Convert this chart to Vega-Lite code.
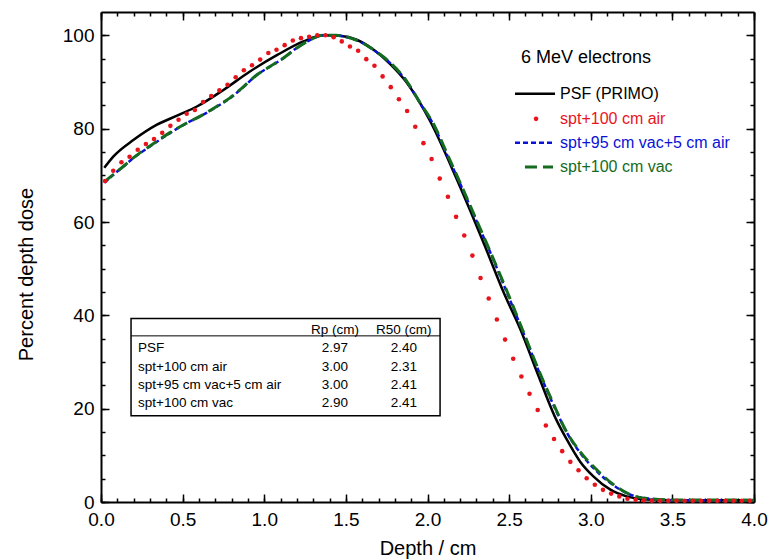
{
  "$schema": "https://vega.github.io/schema/vega-lite/v6.json",
  "width": 653,
  "height": 490,
  "autosize": {"type": "none"},
  "padding": {"left": 101, "top": 12, "right": 17, "bottom": 57},
  "config": {
    "font": "Liberation Sans",
    "view": {"stroke": null},
    "axis": {"grid": false, "domainColor": "black", "tickColor": "black", "labelColor": "black", "titleColor": "black", "titleFontWeight": "normal", "labelFont": "Liberation Sans", "titleFont": "Liberation Sans"}
  },
  "datasets": {
    "psf": [
      {"depth": 0.02, "dose": 71.6}, {"depth": 0.075, "dose": 74.0}, {"depth": 0.2, "dose": 77.6}, {"depth": 0.34, "dose": 80.8},
      {"depth": 0.48, "dose": 83.0}, {"depth": 0.59, "dose": 84.8}, {"depth": 0.75, "dose": 88.3}, {"depth": 0.91, "dose": 92.2},
      {"depth": 1.08, "dose": 95.8}, {"depth": 1.24, "dose": 98.7}, {"depth": 1.36, "dose": 100.0}, {"depth": 1.46, "dose": 99.9},
      {"depth": 1.57, "dose": 99.0}, {"depth": 1.67, "dose": 96.9}, {"depth": 1.77, "dose": 93.9}, {"depth": 1.87, "dose": 90.0},
      {"depth": 2.015, "dose": 81.7}, {"depth": 2.18, "dose": 69.1}, {"depth": 2.28, "dose": 60.9}, {"depth": 2.36, "dose": 54.1},
      {"depth": 2.47, "dose": 44.6}, {"depth": 2.57, "dose": 36.9}, {"depth": 2.68, "dose": 27.0}, {"depth": 2.78, "dose": 18.3},
      {"depth": 2.853, "dose": 13.4}, {"depth": 2.934, "dose": 8.7}, {"depth": 3.016, "dose": 5.5}, {"depth": 3.118, "dose": 2.7},
      {"depth": 3.22, "dose": 1.2}, {"depth": 3.343, "dose": 0.55}, {"depth": 3.5, "dose": 0.4}, {"depth": 4.0, "dose": 0.4}
    ],
    "vac95": [
      {"depth": 0.02, "dose": 68.4}, {"depth": 0.075, "dose": 70.1}, {"depth": 0.137, "dose": 71.9}, {"depth": 0.198, "dose": 73.7},
      {"depth": 0.3, "dose": 76.2}, {"depth": 0.42, "dose": 79.0}, {"depth": 0.525, "dose": 81.2}, {"depth": 0.627, "dose": 83.0},
      {"depth": 0.709, "dose": 84.7}, {"depth": 0.79, "dose": 86.5}, {"depth": 0.872, "dose": 88.9}, {"depth": 0.954, "dose": 91.5},
      {"depth": 1.035, "dose": 93.3}, {"depth": 1.117, "dose": 95.1}, {"depth": 1.199, "dose": 97.3}, {"depth": 1.28, "dose": 99.0},
      {"depth": 1.362, "dose": 100.0}, {"depth": 1.43, "dose": 100.0}, {"depth": 1.525, "dose": 99.4}, {"depth": 1.607, "dose": 98.3},
      {"depth": 1.668, "dose": 96.9}, {"depth": 1.76, "dose": 94.4}, {"depth": 1.873, "dose": 90.1}, {"depth": 1.954, "dose": 85.5},
      {"depth": 2.036, "dose": 80.9}, {"depth": 2.118, "dose": 74.5}, {"depth": 2.2, "dose": 68.2}, {"depth": 2.29, "dose": 61.0},
      {"depth": 2.383, "dose": 53.6}, {"depth": 2.485, "dose": 45.0}, {"depth": 2.587, "dose": 36.3}, {"depth": 2.69, "dose": 27.3},
      {"depth": 2.79, "dose": 19.4}, {"depth": 2.842, "dose": 15.6}, {"depth": 2.934, "dose": 10.6}, {"depth": 3.036, "dose": 6.6},
      {"depth": 3.138, "dose": 3.6}, {"depth": 3.24, "dose": 1.6}, {"depth": 3.363, "dose": 0.7}, {"depth": 3.5, "dose": 0.4},
      {"depth": 4.0, "dose": 0.35}
    ],
    "vac100": [
      {"depth": 0.02, "dose": 68.6}, {"depth": 0.08, "dose": 70.3}, {"depth": 0.14, "dose": 72.0}, {"depth": 0.2, "dose": 73.8},
      {"depth": 0.3, "dose": 76.3}, {"depth": 0.42, "dose": 79.1}, {"depth": 0.52, "dose": 81.1}, {"depth": 0.63, "dose": 83.1},
      {"depth": 0.71, "dose": 84.8}, {"depth": 0.79, "dose": 86.6}, {"depth": 0.87, "dose": 88.9}, {"depth": 0.95, "dose": 91.4},
      {"depth": 1.03, "dose": 93.2}, {"depth": 1.12, "dose": 95.2}, {"depth": 1.2, "dose": 97.3}, {"depth": 1.28, "dose": 99.0},
      {"depth": 1.36, "dose": 100.0}, {"depth": 1.44, "dose": 100.0}, {"depth": 1.53, "dose": 99.4}, {"depth": 1.61, "dose": 98.2},
      {"depth": 1.67, "dose": 96.9}, {"depth": 1.76, "dose": 94.5}, {"depth": 1.87, "dose": 90.3}, {"depth": 1.95, "dose": 85.8},
      {"depth": 2.04, "dose": 80.8}, {"depth": 2.12, "dose": 74.6}, {"depth": 2.2, "dose": 68.4}, {"depth": 2.29, "dose": 61.2},
      {"depth": 2.38, "dose": 54.0}, {"depth": 2.49, "dose": 44.9}, {"depth": 2.59, "dose": 36.2}, {"depth": 2.69, "dose": 27.5},
      {"depth": 2.79, "dose": 19.6}, {"depth": 2.84, "dose": 15.8}, {"depth": 2.93, "dose": 11.0}, {"depth": 3.04, "dose": 6.8},
      {"depth": 3.14, "dose": 3.7}, {"depth": 3.24, "dose": 1.6}, {"depth": 3.36, "dose": 0.7}, {"depth": 3.5, "dose": 0.45},
      {"depth": 4.0, "dose": 0.4}
    ],
    "air": [
      {"depth": 0.025, "dose": 68.8}, {"depth": 0.075, "dose": 71.0}, {"depth": 0.125, "dose": 72.8}, {"depth": 0.175, "dose": 74.0},
      {"depth": 0.225, "dose": 75.5}, {"depth": 0.275, "dose": 76.7}, {"depth": 0.325, "dose": 77.8}, {"depth": 0.375, "dose": 79.1},
      {"depth": 0.425, "dose": 80.6}, {"depth": 0.475, "dose": 81.9}, {"depth": 0.525, "dose": 83.2}, {"depth": 0.575, "dose": 84.0},
      {"depth": 0.625, "dose": 85.7}, {"depth": 0.675, "dose": 87.0}, {"depth": 0.725, "dose": 88.2}, {"depth": 0.775, "dose": 89.4},
      {"depth": 0.825, "dose": 91.0}, {"depth": 0.875, "dose": 92.5}, {"depth": 0.925, "dose": 93.6}, {"depth": 0.975, "dose": 94.8},
      {"depth": 1.025, "dose": 96.2}, {"depth": 1.075, "dose": 96.9}, {"depth": 1.125, "dose": 97.9}, {"depth": 1.175, "dose": 98.9},
      {"depth": 1.225, "dose": 99.4}, {"depth": 1.275, "dose": 99.7}, {"depth": 1.325, "dose": 100.0}, {"depth": 1.375, "dose": 100.0},
      {"depth": 1.425, "dose": 99.6}, {"depth": 1.475, "dose": 98.7}, {"depth": 1.525, "dose": 97.6}, {"depth": 1.575, "dose": 96.7},
      {"depth": 1.625, "dose": 94.9}, {"depth": 1.675, "dose": 93.5}, {"depth": 1.725, "dose": 91.2}, {"depth": 1.775, "dose": 88.9},
      {"depth": 1.825, "dose": 86.3}, {"depth": 1.875, "dose": 83.8}, {"depth": 1.925, "dose": 80.4}, {"depth": 1.975, "dose": 76.9},
      {"depth": 2.025, "dose": 73.5}, {"depth": 2.075, "dose": 69.3}, {"depth": 2.125, "dose": 65.4}, {"depth": 2.175, "dose": 61.1},
      {"depth": 2.225, "dose": 57.1}, {"depth": 2.275, "dose": 52.8}, {"depth": 2.325, "dose": 48.0}, {"depth": 2.375, "dose": 43.6},
      {"depth": 2.425, "dose": 39.1}, {"depth": 2.475, "dose": 34.8}, {"depth": 2.525, "dose": 30.7}, {"depth": 2.575, "dose": 26.9},
      {"depth": 2.625, "dose": 23.2}, {"depth": 2.675, "dose": 19.7}, {"depth": 2.725, "dose": 16.4}, {"depth": 2.775, "dose": 13.5},
      {"depth": 2.825, "dose": 10.9}, {"depth": 2.875, "dose": 8.6}, {"depth": 2.925, "dose": 6.8}, {"depth": 2.975, "dose": 5.1},
      {"depth": 3.025, "dose": 3.7}, {"depth": 3.075, "dose": 2.6}, {"depth": 3.125, "dose": 1.8}, {"depth": 3.175, "dose": 1.2},
      {"depth": 3.225, "dose": 0.7}, {"depth": 3.275, "dose": 0.5}, {"depth": 3.325, "dose": 0.35}, {"depth": 3.375, "dose": 0.25},
      {"depth": 3.425, "dose": 0.25}, {"depth": 3.475, "dose": 0.25}, {"depth": 3.525, "dose": 0.25}, {"depth": 3.575, "dose": 0.25},
      {"depth": 3.625, "dose": 0.25}, {"depth": 3.675, "dose": 0.25}, {"depth": 3.725, "dose": 0.25}, {"depth": 3.775, "dose": 0.25},
      {"depth": 3.825, "dose": 0.25}, {"depth": 3.875, "dose": 0.25}, {"depth": 3.925, "dose": 0.25}, {"depth": 3.975, "dose": 0.25}
    ],
    "legend": [
      {"series": "PSF (PRIMO)", "depth": 2.536, "depth2": 2.781, "dose": 87.5},
      {"series": "spt+100 cm air", "depth": 2.665, "depth2": 2.665, "dose": 82.1},
      {"series": "spt+95 cm vac+5 cm air", "depth": 2.536, "depth2": 2.781, "dose": 77.0},
      {"series": "spt+100 cm vac", "depth": 2.597, "depth2": 2.769, "dose": 71.8}
    ],
    "table": [
      {"label": "", "Rp": "Rp (cm)", "R50": "R50 (cm)", "dose": 36.9},
      {"label": "PSF", "Rp": "2.97", "R50": "2.40", "dose": 33.0},
      {"label": "spt+100 cm air", "Rp": "3.00", "R50": "2.31", "dose": 29.0},
      {"label": "spt+95 cm vac+5 cm air", "Rp": "3.00", "R50": "2.41", "dose": 25.1},
      {"label": "spt+100 cm vac", "Rp": "2.90", "R50": "2.41", "dose": 21.2}
    ]
  },
  "resolve": {"axis": {"x": "independent", "y": "independent"}},
  "layer": [
    {
      "data": {"name": "psf"},
      "mark": {"type": "line", "color": "black", "strokeWidth": 2.5, "interpolate": "monotone"},
      "encoding": {
        "x": {"field": "depth", "type": "quantitative", "scale": {"domain": [0, 4], "nice": false, "zero": false},
          "axis": {"orient": "bottom", "values": [0, 0.5, 1, 1.5, 2, 2.5, 3, 3.5, 4], "format": ".1f", "title": "Depth / cm", "titleFontSize": 20, "labelFontSize": 19, "tickSize": -8, "tickWidth": 1.5, "domainWidth": 2, "labelPadding": 16, "titlePadding": 9, "labelFlush": false, "labelOverlap": false, "grid": false}},
        "y": {"field": "dose", "type": "quantitative", "scale": {"domain": [0, 105], "nice": false, "zero": false},
          "axis": {"orient": "left", "values": [0, 20, 40, 60, 80, 100], "format": "d", "title": "Percent depth dose", "titleFontSize": 20, "labelFontSize": 19, "tickSize": -8, "tickWidth": 1.5, "domainWidth": 2, "labelPadding": 15, "titlePadding": 26, "titleY": 262, "labelFlush": false, "labelOverlap": false, "grid": false}}
      }
    },
    {
      "data": {"name": "vac95"},
      "mark": {"type": "line", "color": "#0a12d6", "strokeWidth": 2.5, "strokeDash": [5, 3], "interpolate": "monotone"},
      "encoding": {
        "x": {"field": "depth", "type": "quantitative", "scale": {"domain": [0, 4], "nice": false, "zero": false},
          "axis": {"orient": "bottom", "values": [0, 0.1, 0.2, 0.3, 0.4, 0.5, 0.6, 0.7, 0.8, 0.9, 1, 1.1, 1.2, 1.3, 1.4, 1.5, 1.6, 1.7, 1.8, 1.9, 2, 2.1, 2.2, 2.3, 2.4, 2.5, 2.6, 2.7, 2.8, 2.9, 3, 3.1, 3.2, 3.3, 3.4, 3.5, 3.6, 3.7, 3.8, 3.9, 4], "labels": false, "domain": false, "title": null, "tickSize": -4, "tickWidth": 1.5, "grid": false}},
        "y": {"field": "dose", "type": "quantitative", "scale": {"domain": [0, 105], "nice": false, "zero": false},
          "axis": {"orient": "left", "values": [0, 5, 10, 15, 20, 25, 30, 35, 40, 45, 50, 55, 60, 65, 70, 75, 80, 85, 90, 95, 100], "labels": false, "domain": false, "title": null, "tickSize": -4, "tickWidth": 1.5, "grid": false}}
      }
    },
    {
      "data": {"name": "vac100"},
      "mark": {"type": "line", "color": "#146c1e", "strokeWidth": 3, "strokeDash": [12, 6], "interpolate": "monotone"},
      "encoding": {
        "x": {"field": "depth", "type": "quantitative", "scale": {"domain": [0, 4], "nice": false, "zero": false},
          "axis": {"orient": "top", "values": [0, 0.5, 1, 1.5, 2, 2.5, 3, 3.5, 4], "labels": false, "title": null, "tickSize": -8, "tickWidth": 1.5, "domainWidth": 2, "grid": false}},
        "y": {"field": "dose", "type": "quantitative", "scale": {"domain": [0, 105], "nice": false, "zero": false},
          "axis": {"orient": "right", "values": [0, 20, 40, 60, 80, 100], "labels": false, "title": null, "tickSize": -8, "tickWidth": 1.5, "domainWidth": 2, "grid": false}}
      }
    },
    {
      "data": {"name": "air"},
      "mark": {"type": "circle", "color": "#e8141c", "size": 21, "opacity": 1},
      "encoding": {
        "x": {"field": "depth", "type": "quantitative", "scale": {"domain": [0, 4], "nice": false, "zero": false},
          "axis": {"orient": "top", "values": [0, 0.1, 0.2, 0.3, 0.4, 0.5, 0.6, 0.7, 0.8, 0.9, 1, 1.1, 1.2, 1.3, 1.4, 1.5, 1.6, 1.7, 1.8, 1.9, 2, 2.1, 2.2, 2.3, 2.4, 2.5, 2.6, 2.7, 2.8, 2.9, 3, 3.1, 3.2, 3.3, 3.4, 3.5, 3.6, 3.7, 3.8, 3.9, 4], "labels": false, "domain": false, "title": null, "tickSize": -4, "tickWidth": 1.5, "grid": false}},
        "y": {"field": "dose", "type": "quantitative", "scale": {"domain": [0, 105], "nice": false, "zero": false},
          "axis": {"orient": "right", "values": [0, 5, 10, 15, 20, 25, 30, 35, 40, 45, 50, 55, 60, 65, 70, 75, 80, 85, 90, 95, 100], "labels": false, "domain": false, "title": null, "tickSize": -4, "tickWidth": 1.5, "grid": false}}
      }
    },
    {
      "data": {"name": "legend"},
      "transform": [{"filter": "datum.series == 'PSF (PRIMO)'"}],
      "mark": {"type": "rule", "color": "black", "strokeWidth": 2.5},
      "encoding": {
        "x": {"field": "depth", "type": "quantitative", "axis": null},
        "x2": {"field": "depth2"},
        "y": {"field": "dose", "type": "quantitative", "axis": null}
      }
    },
    {
      "data": {"name": "legend"},
      "transform": [{"filter": "datum.series == 'spt+100 cm air'"}],
      "mark": {"type": "circle", "color": "#e8141c", "size": 21, "opacity": 1},
      "encoding": {
        "x": {"field": "depth", "type": "quantitative", "axis": null},
        "y": {"field": "dose", "type": "quantitative", "axis": null}
      }
    },
    {
      "data": {"name": "legend"},
      "transform": [{"filter": "datum.series == 'spt+95 cm vac+5 cm air'"}],
      "mark": {"type": "rule", "color": "#0a12d6", "strokeWidth": 2.5, "strokeDash": [5, 3]},
      "encoding": {
        "x": {"field": "depth", "type": "quantitative", "axis": null},
        "x2": {"field": "depth2"},
        "y": {"field": "dose", "type": "quantitative", "axis": null}
      }
    },
    {
      "data": {"name": "legend"},
      "transform": [{"filter": "datum.series == 'spt+100 cm vac'"}],
      "mark": {"type": "rule", "color": "#146c1e", "strokeWidth": 3, "strokeDash": [12, 6]},
      "encoding": {
        "x": {"field": "depth", "type": "quantitative", "axis": null},
        "x2": {"field": "depth2"},
        "y": {"field": "dose", "type": "quantitative", "axis": null}
      }
    },
    {
      "data": {"name": "legend"},
      "mark": {"type": "text", "align": "left", "baseline": "middle", "fontSize": 16},
      "encoding": {
        "x": {"datum": 2.812, "type": "quantitative", "axis": null},
        "y": {"field": "dose", "type": "quantitative", "axis": null},
        "text": {"field": "series"},
        "color": {"field": "series", "type": "nominal", "legend": null,
          "scale": {"domain": ["PSF (PRIMO)", "spt+100 cm air", "spt+95 cm vac+5 cm air", "spt+100 cm vac"], "range": ["black", "#e8141c", "#0a12d6", "#146c1e"]}}
      }
    },
    {
      "data": {"values": [{"title": "6 MeV electrons", "depth": 2.573, "dose": 95.2}]},
      "mark": {"type": "text", "align": "left", "baseline": "middle", "fontSize": 18, "color": "black"},
      "encoding": {
        "x": {"field": "depth", "type": "quantitative", "axis": null},
        "y": {"field": "dose", "type": "quantitative", "axis": null},
        "text": {"field": "title"}
      }
    },
    {
      "data": {"values": [{"x1": 0.184, "x2": 2.077, "y1": 39.3, "y2": 18.5}]},
      "mark": {"type": "rect", "fill": "white", "stroke": "black", "strokeWidth": 1.5},
      "encoding": {
        "x": {"field": "x1", "type": "quantitative", "axis": null},
        "x2": {"field": "x2"},
        "y": {"field": "y1", "type": "quantitative", "axis": null},
        "y2": {"field": "y2"}
      }
    },
    {
      "data": {"values": [{"x1": 0.184, "x2": 2.077, "y": 35.6}]},
      "mark": {"type": "rule", "color": "black", "strokeWidth": 1},
      "encoding": {
        "x": {"field": "x1", "type": "quantitative", "axis": null},
        "x2": {"field": "x2"},
        "y": {"field": "y", "type": "quantitative", "axis": null}
      }
    },
    {
      "data": {"name": "table"},
      "mark": {"type": "text", "align": "left", "baseline": "middle", "fontSize": 13.5, "color": "black"},
      "encoding": {
        "x": {"datum": 0.227, "type": "quantitative", "axis": null},
        "y": {"field": "dose", "type": "quantitative", "axis": null},
        "text": {"field": "label"}
      }
    },
    {
      "data": {"name": "table"},
      "mark": {"type": "text", "align": "center", "baseline": "middle", "fontSize": 13.5, "color": "black"},
      "encoding": {
        "x": {"datum": 1.433, "type": "quantitative", "axis": null},
        "y": {"field": "dose", "type": "quantitative", "axis": null},
        "text": {"field": "Rp"}
      }
    },
    {
      "data": {"name": "table"},
      "mark": {"type": "text", "align": "center", "baseline": "middle", "fontSize": 13.5, "color": "black"},
      "encoding": {
        "x": {"datum": 1.855, "type": "quantitative", "axis": null},
        "y": {"field": "dose", "type": "quantitative", "axis": null},
        "text": {"field": "R50"}
      }
    }
  ]
}
